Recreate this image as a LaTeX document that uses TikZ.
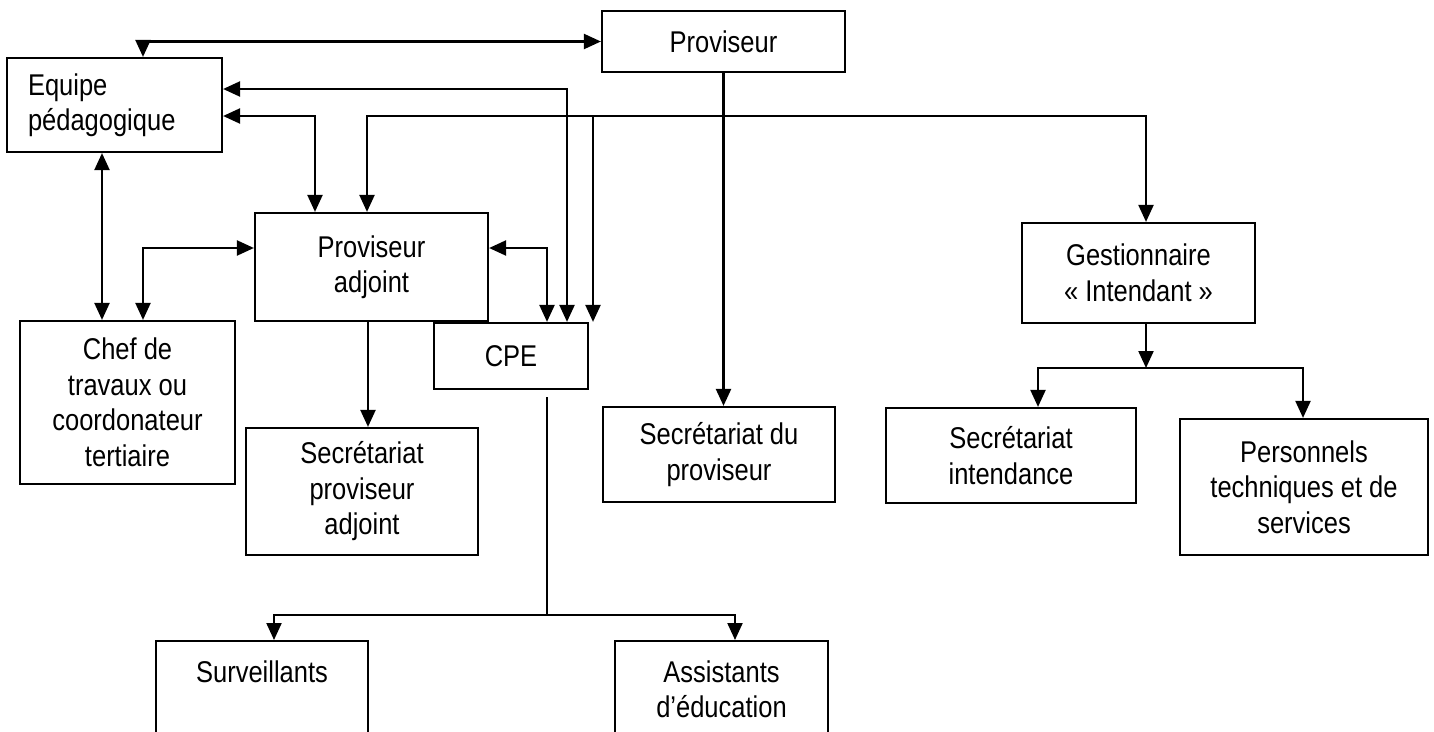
\documentclass[tikz,border=0pt]{standalone}
\usepackage{fontspec}
\setmainfont{Liberation Sans}[FakeStretch=0.85]
\usetikzlibrary{arrows.meta}
\definecolor{inkBlack}{HTML}{000000}
\tikzset{
    orgbox/.style={draw=inkBlack,fill=white,line width=2.2pt,inner sep=0pt,
        align=center,font=\fontsize{30}{35.5}\selectfont},
    link/.style={draw=inkBlack,line width=2.2pt},
    arrow/.style={link,-{Triangle[length=17pt,width=15pt]}},
    twoarrow/.style={link,{Triangle[length=17pt,width=15pt]}-{Triangle[length=17pt,width=15pt]}}
}

\begin{document}
\begin{tikzpicture}[x=1pt,y=-1pt]
    \useasboundingbox (0,0) rectangle (1434,731);
    \clip (0,0) rectangle (1434,731);
    \node[orgbox,minimum width=243pt,minimum height=61pt] (prov) at (723.5,41.5) {Proviseur};
    \node[orgbox,align=left,text width=173pt,inner xsep=21pt,minimum height=94pt] (equipe) at (114.5,105) {Equipe\\pédagogique};
    \node[orgbox,minimum width=233pt,minimum height=108pt] (adj) at (371.5,267) {Proviseur\\adjoint};
    \node[orgbox,minimum width=215pt,minimum height=163pt] (chef) at (127.5,402.5) {Chef de\\travaux ou\\coordonateur\\tertiaire};
    \node[orgbox,minimum width=154pt,minimum height=66pt] (cpe) at (511,356) {CPE};
    \node[orgbox,minimum width=232pt,minimum height=127pt] (secadj) at (362,491.5) {Secrétariat\\proviseur\\adjoint};
    \node[orgbox,minimum width=232pt,minimum height=95pt] (secprov) at (719,454.5) {Secrétariat du\\proviseur};
    \node[orgbox,minimum width=233pt,minimum height=100pt] (gest) at (1138.5,273) {Gestionnaire\\«~Intendant~»};
    \node[orgbox,minimum width=250pt,minimum height=95pt] (secint) at (1011,455.5) {Secrétariat\\intendance};
    \node[orgbox,minimum width=248pt,minimum height=136pt] (pers) at (1304,487) {Personnels\\techniques et de\\services};
    \node[orgbox,anchor=north,minimum width=212pt,minimum height=96pt] (surv) at (262,640) {Surveillants\\\mbox{}};
    \node[orgbox,anchor=north,minimum width=213pt,minimum height=96pt] (assist) at (721.5,640) {Assistants\\d’éducation};

    \coordinate (hub) at (prov.south |- 0,116);
    \coordinate (cpetail) at (547,397);
    \coordinate (cpefoot) at (547,615);
    \coordinate (gestfoot) at (1146,368);

    \draw[twoarrow] (143,0 |- equipe.north) |- (prov.west);
    \draw[twoarrow] (equipe.east |- 0,89) -| (567,0 |- cpe.north);
    \draw[twoarrow] (equipe.east |- 0,116) -| (315,0 |- adj.north);
    \draw[twoarrow] (102,0 |- equipe.south) -- (102,0 |- chef.north);
    \draw[twoarrow] (adj.west |- 0,248) -| (143,0 |- chef.north);
    \draw[twoarrow] (adj.east |- 0,248) -| (547,0 |- cpe.north);
    \draw[arrow] (368,0 |- adj.south) -- (368,0 |- secadj.north);

    \draw[arrow] (prov.south) -- (prov.south |- secprov.north);
    \draw[arrow] (hub) -| (367,0 |- adj.north);
    \draw[arrow] (593,0 |- hub) -- (593,0 |- cpe.north);
    \draw[arrow] (hub) -| (1146,0 |- gest.north);

    \draw[link] (cpetail) -- (cpefoot);
    \draw[arrow] (cpefoot) -| (274,0 |- surv.north);
    \draw[arrow] (cpefoot) -| (735,0 |- assist.north);

    \draw[arrow] (1146,0 |- gest.south) -- (gestfoot);
    \draw[arrow] (gestfoot) -| (1038,0 |- secint.north);
    \draw[arrow] (gestfoot) -| (1303,0 |- pers.north);
\end{tikzpicture}
\end{document}
